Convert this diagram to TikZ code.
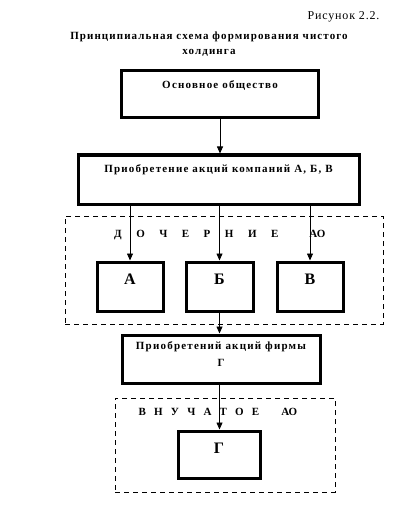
\documentclass[tikz,border=0pt]{standalone}
\usepackage{fontspec}
\setmainfont{Liberation Serif}
\newfontfamily\boxfont[LetterSpace=11]{Liberation Serif}
\newfontfamily\titlefont[LetterSpace=10]{Liberation Serif}
\newfontfamily\figfont[LetterSpace=7]{Liberation Serif}
\usetikzlibrary{arrows.meta}

\tikzset{
  holdbox/.style={draw, line width=3pt, inner sep=0pt},
  groupbox/.style={draw, dashed, dash pattern=on 5pt off 4pt, line width=0.7pt},
  link/.style={-{Triangle[width=6pt,length=7pt]}, line width=0.8pt},
  boxtext/.style={font=\boxfont\bfseries\fontsize{11}{17}\selectfont},
  rowtext/.style={font=\bfseries\fontsize{11}{13}\selectfont},
  bigletter/.style={font=\bfseries\fontsize{16}{18}\selectfont}
}

\begin{document}
\begin{tikzpicture}[x=1pt, y=-1pt]
  \useasboundingbox (0,0) rectangle (416,505);

  % Заголовок
  \node[anchor=east, font=\figfont\fontsize{12}{14}\selectfont] (fig) at (383,17) {Рисунок 2.2.};
  \node[align=center, font=\titlefont\bfseries\fontsize{11}{15}\selectfont] (title) at (209,44.5)
    {Принципиальная схема формирования чистого\\холдинга};

  % Основное общество
  \node[holdbox, minimum width=197pt, minimum height=47pt,
        label={[boxtext, anchor=north, yshift=-8pt]north:Основное общество}] (main) at (220,94.5) {};

  % Приобретение акций
  \node[holdbox, minimum width=281pt, minimum height=49pt,
        label={[boxtext, anchor=north, yshift=-8pt]north:Приобретение акций компаний А, Б, В}] (buy) at (218.5,179.5) {};

  % Дочерние АО
  \node[groupbox, minimum width=318pt, minimum height=108pt] (daughters) at (224,270) {};
  \node[rowtext, anchor=base west, inner sep=0pt] (dtitle) at (114,237)
    {Д\hspace{14.5pt}О\hspace{14.5pt}Ч\hspace{14.5pt}Е\hspace{14.5pt}Р\hspace{14.5pt}Н\hspace{14.5pt}И\hspace{14.5pt}Е\hspace{31pt}АО};

  \node[holdbox, minimum width=66pt, minimum height=49pt,
        label={[bigletter, anchor=north, yshift=-10pt]north:А}] (a) at (130,286.5) {};
  \node[holdbox, minimum width=67pt, minimum height=49pt,
        label={[bigletter, anchor=north, yshift=-10pt]north:Б}] (b) at (219.5,286.5) {};
  \node[holdbox, minimum width=66pt, minimum height=49pt,
        label={[bigletter, anchor=north, yshift=-10pt]north:В}] (v) at (310,286.5) {};

  % Приобретение акций фирмы Г
  \node[holdbox, minimum width=198pt, minimum height=48pt,
        label={[boxtext, anchor=north, yshift=-5pt, align=center]north:Приобретений акций фирмы\\Г}] (buyg) at (221,359) {};

  % Внучатое АО
  \node[groupbox, minimum width=220pt, minimum height=94pt] (grand) at (225,445) {};
  \node[rowtext, anchor=base west, inner sep=0pt] (gtitle) at (138.5,415)
    {В\hspace{8.2pt}Н\hspace{8.2pt}У\hspace{8.2pt}Ч\hspace{8.2pt}А\hspace{8.2pt}Т\hspace{8.2pt}О\hspace{8.2pt}Е\hspace{22pt}АО};

  \node[holdbox, minimum width=82pt, minimum height=47pt,
        label={[bigletter, anchor=north, yshift=-10pt]north:Г}] (g) at (219,454.5) {};

  % Стрелки
  \draw[link] (main.south) -- (buy.north -| main.south);
  \draw[link] (buy.south -| a.north) -- (a.north);
  \draw[link] (buy.south -| b.north) -- (b.north);
  \draw[link] (buy.south -| v.north) -- (v.north);
  \draw[link] (b.south) -- (buyg.north -| b.south);
  \draw[link] (buyg.south -| b.south) -- (g.north -| b.south);
\end{tikzpicture}
\end{document}
